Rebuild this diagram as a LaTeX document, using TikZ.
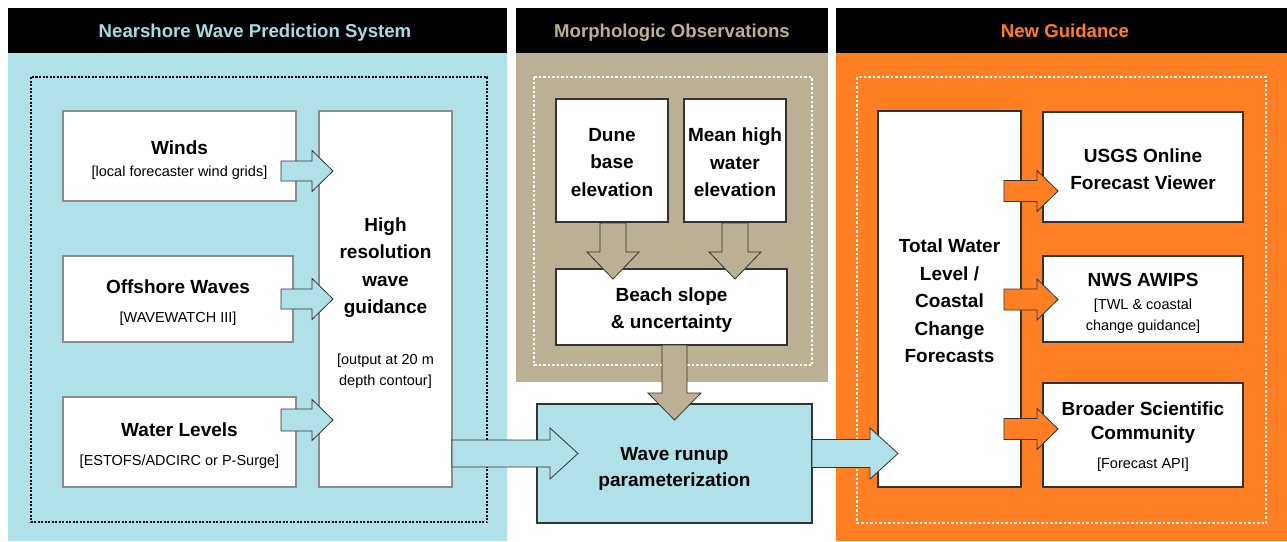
\documentclass[tikz,border=0pt]{standalone}
\usepackage{fontspec}
\setmainfont{Liberation Sans}
\definecolor{wblue}{HTML}{B0E0E8}
\definecolor{wbluet}{HTML}{A6DCE4}
\definecolor{tanc}{HTML}{BBB093}
\definecolor{orng}{HTML}{FF7F22}
\definecolor{gborder}{HTML}{8C8C8C}
\definecolor{dborder}{HTML}{333333}
\newcommand\boldtxt{\fontsize{19}{27.5}\selectfont\bfseries}
\newcommand\subtxt{\fontsize{14.5}{21}\selectfont}
\tikzset{
  blockarrow/.style={draw=dborder, line width=0.8pt, line join=miter},
  gbox/.style={draw=gborder, fill=white, line width=1.3pt, inner sep=0pt},
  dbox/.style={draw=dborder, fill=white, line width=1.3pt, inner sep=0pt},
  txt/.style={inner sep=0pt, align=center},
  header/.style={fill=black},
  title/.style={font=\fontsize{18.6}{20}\selectfont\bfseries, anchor=base},
}
% #1 fill, #2 x start, #3 x tip, #4 y, #5 shaft half, #6 head half, #7 head length
\newcommand\harrow[7]{\draw[blockarrow,fill=#1] (#2,{#4-#5}) -- ({#3-#7},{#4-#5}) -- ({#3-#7},{#4-#6}) -- (#3,#4) -- ({#3-#7},{#4+#6}) -- ({#3-#7},{#4+#5}) -- (#2,{#4+#5}) -- cycle;}
% #1 fill, #2 x, #3 y start, #4 y tip, #5 shaft half, #6 head half, #7 head length
\newcommand\varrow[7]{\draw[blockarrow,fill=#1] ({#2-#5},#3) -- ({#2-#5},{#4-#7}) -- ({#2-#6},{#4-#7}) -- (#2,#4) -- ({#2+#6},{#4-#7}) -- ({#2+#5},{#4-#7}) -- ({#2+#5},#3) -- cycle;}
\begin{document}
\begin{tikzpicture}[x=1pt,y=-1pt]
\useasboundingbox (0,0) rectangle (1287,541);
% panels
\fill[wblue] (8,53) rectangle (507,541);
\fill[tanc] (516,53) rectangle (828,382);
\fill[orng] (836,53) rectangle (1287,541);
\fill[header] (8,8) rectangle (507,53);
\fill[header] (516,8) rectangle (828,53);
\fill[header] (836,8) rectangle (1287,53);
\node[title, text=wbluet] (t1) at (255,37) {Nearshore Wave Prediction System};
\node[title, text=tanc] (t2) at (672,37) {Morphologic Observations};
\node[title, text=orng] (t3) at (1065,37) {New Guidance};
% dotted frames
\draw[black, line width=2.2pt, dash pattern=on 2pt off 1.5pt] (31,77) rectangle (487,522);
\draw[white, line width=2.5pt, dash pattern=on 2.5pt off 2pt] (534,77) rectangle (812,365);
\draw[white, line width=2.5pt, dash pattern=on 2.5pt off 2pt] (857,77) rectangle (1266,523);
% panel 1 boxes
\node[gbox, minimum width=233pt, minimum height=90pt] (winds) at (179.5,156) {};
\node[txt, font=\subtxt] (windsT) at ([yshift=-4pt]winds.center)
  {{\boldtxt Winds}\\[1pt]{}[local forecaster wind grids]};
\node[gbox, minimum width=230pt, minimum height=86pt] (offshore) at (178,299) {};
\node[txt, font=\subtxt] (offshoreT) at ([yshift=-3.5pt]offshore.center)
  {{\boldtxt Offshore Waves}\\[8pt]{}[WAVEWATCH III]};
\node[gbox, minimum width=233pt, minimum height=90pt] (water) at (179.5,442) {};
\node[txt, font=\subtxt] (waterT) at ([yshift=-3.5pt]water.center)
  {{\boldtxt Water Levels}\\[8pt]{}[ESTOFS/ADCIRC or P-Surge]};
\node[gbox, minimum width=133pt, minimum height=376pt] (hires) at (385.5,299) {};
\node[txt, font=\subtxt] (hiresT) at ([yshift=-4pt]hires.center)
  {{\boldtxt High}\\[6.5pt]{\boldtxt resolution}\\[6.5pt]{\boldtxt wave}\\[6.5pt]{\boldtxt guidance}\\[30pt]{}[output at 20 m\\depth contour]};
% panel 2 boxes
\node[dbox, minimum width=112pt, minimum height=123pt] (dune) at (612,160.5) {};
\node[txt, font=\boldtxt] (duneT) at ([yshift=-2pt]dune.center) {Dune\\base\\elevation};
\node[dbox, minimum width=102pt, minimum height=123pt] (meanhigh) at (735,160.5) {};
\node[txt, font=\boldtxt] (meanhighT) at ([yshift=-2pt]meanhigh.center) {Mean high\\water\\elevation};
\node[dbox, minimum width=231pt, minimum height=76pt] (beach) at (671.5,307) {};
\node[txt, font=\boldtxt] (beachT) at ([yshift=-3pt]beach.center) {Beach slope\\[-0.5pt]\& uncertainty};
\node[dbox, fill=wblue, minimum width=275pt, minimum height=119pt] (runup) at (674.5,463.5) {};
\node[txt, font=\boldtxt] (runupT) at ([yshift=-5pt]runup.center) {Wave runup\\[-1.5pt]parameterization};
% panel 3 boxes
\node[dbox, minimum width=143pt, minimum height=376pt] (twl) at (949.5,299) {};
\node[txt, font=\boldtxt] (twlT) at ([yshift=-2pt]twl.center) {Total Water\\Level /\\Coastal\\Change\\Forecasts};
\node[dbox, minimum width=200pt, minimum height=110pt] (usgs) at (1143,167) {};
\node[txt, font=\boldtxt] (usgsT) at ([yshift=-2pt]usgs.center) {USGS Online\\[-0.5pt]Forecast Viewer};
\node[dbox, minimum width=200pt, minimum height=86pt] (nws) at (1143,299) {};
\node[txt, font=\subtxt] (nwsT) at ([yshift=-4pt]nws.center)
  {{\boldtxt NWS AWIPS}\\[2pt]{}[TWL \& coastal\\change guidance]};
\node[dbox, minimum width=200pt, minimum height=104pt] (broader) at (1143,435) {};
\node[txt, font=\subtxt] (broaderT) at ([yshift=-2pt]broader.center)
  {{\boldtxt Broader Scientific}\\[3pt]{\boldtxt Community}\\[8pt]{}[Forecast API]};
% arrows
\harrow{wblue}{281}{333}{171}{10}{20.5}{21}
\harrow{wblue}{281}{333}{299}{10}{20.5}{21}
\harrow{wblue}{281}{333}{420}{11}{20.5}{21}
\harrow{wblue}{452}{578}{453.5}{13.5}{25.5}{28}
\harrow{wblue}{812}{898}{453.5}{14}{25.5}{28}
\harrow{orng}{1004}{1058}{191}{10.5}{20.5}{21}
\harrow{orng}{1004}{1058}{299.5}{10.5}{20.5}{21}
\harrow{orng}{1004}{1058}{429}{10.5}{20.5}{21}
\varrow{tanc}{613}{223}{279}{13}{26}{27}
\varrow{tanc}{735}{223}{279}{13}{26}{27}
\varrow{tanc}{674.5}{345}{420}{12.5}{26.5}{27}
\end{tikzpicture}
\end{document}
